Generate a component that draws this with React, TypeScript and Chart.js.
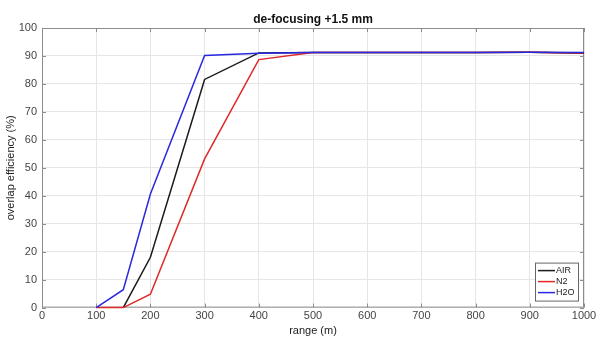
import React, { useEffect, useRef } from "react";
import { Chart, registerables } from "chart.js";

Chart.register(...registerables);

const ranges = [100, 150, 200, 300, 400, 500, 600, 700, 800, 900, 1000];
const airValues = [null, 0, 18, 81.6, 91.1, 91.2, 91.2, 91.2, 91.2, 91.3, 91.0];
const n2Values = [0, 0, 4.8, 53.2, 88.7, 91.2, 91.2, 91.2, 91.2, 91.3, 91.1];
const h2oValues = [0, 6.4, 40.6, 90.2, 91.0, 91.2, 91.2, 91.2, 91.2, 91.3, 91.2];
const xTicks = [0, 100, 200, 300, 400, 500, 600, 700, 800, 900, 1000];
const yTicks = [0, 10, 20, 30, 40, 50, 60, 70, 80, 90, 100];
const titleText = "de-focusing +1.5 mm";

const FONT = "'Liberation Sans', Arial, sans-serif";

const boxPlugin = {
  id: "matlabBox",
  beforeDatasetsDraw(chart: any) {
    const { ctx, chartArea: a, scales } = chart;
    ctx.save();
    ctx.strokeStyle = "#8c8c8c";
    ctx.lineWidth = 1;
    ctx.beginPath();
    const tl = 4;
    xTicks.forEach((v) => {
      const x = Math.round(scales.x.getPixelForValue(v)) + 0.5;
      ctx.moveTo(x, a.bottom);
      ctx.lineTo(x, a.bottom - tl);
      ctx.moveTo(x, a.top);
      ctx.lineTo(x, a.top + tl);
    });
    yTicks.forEach((v) => {
      const y = Math.round(scales.y.getPixelForValue(v)) + 0.5;
      ctx.moveTo(a.left, y);
      ctx.lineTo(a.left + tl, y);
      ctx.moveTo(a.right, y);
      ctx.lineTo(a.right - tl, y);
    });
    ctx.stroke();
    ctx.strokeRect(a.left + 0.5, a.top + 0.5, a.right - a.left - 1, a.bottom - a.top - 1);

    // title centred over the plot area
    ctx.fillStyle = "#111";
    ctx.font = `bold 12px ${FONT}`;
    ctx.textAlign = "center";
    ctx.textBaseline = "alphabetic";
    ctx.fillText(titleText, (a.left + a.right) / 2, a.top - 5);
    ctx.restore();
  },
  afterDatasetsDraw(chart: any) {
    const { ctx, chartArea: a } = chart;
    ctx.save();
    // legend box
    const ds = chart.data.datasets;
    const bw = 43, bh = 38;
    const bx = a.right - 6 - bw;
    const by = a.bottom - 7 - bh;
    ctx.fillStyle = "#ffffff";
    ctx.fillRect(bx, by, bw, bh);
    ctx.strokeStyle = "#666666";
    ctx.lineWidth = 1;
    ctx.strokeRect(bx + 0.5, by + 0.5, bw, bh);
    ctx.font = `9px ${FONT}`;
    ctx.textBaseline = "middle";
    ds.forEach((d: any, i: number) => {
      const yy = by + 8 + i * 11;
      ctx.strokeStyle = d.borderColor;
      ctx.lineWidth = 1.5;
      ctx.beginPath();
      ctx.moveTo(bx + 3, yy);
      ctx.lineTo(bx + 20, yy);
      ctx.stroke();
      ctx.fillStyle = "#222";
      ctx.fillText(d.label, bx + 21, yy);
    });
    ctx.restore();
  },
};

export default function App() {
  const ref = useRef<HTMLCanvasElement>(null);
  useEffect(() => {
    const mk = (vals: (number | null)[]) =>
      ranges.map((r, i) => ({ x: r, y: vals[i] }));
    const chart = new Chart(ref.current!, {
      type: "line",
      data: {
        datasets: [
          { label: "AIR", data: mk(airValues) as any, borderColor: "#1a1a1a", borderWidth: 1.5, pointRadius: 0, tension: 0, order: 2, clip: false },
          { label: "N2", data: mk(n2Values) as any, borderColor: "#e02828", borderWidth: 1.5, pointRadius: 0, tension: 0, order: 1, clip: false },
          { label: "H2O", data: mk(h2oValues) as any, borderColor: "#2828e0", borderWidth: 1.5, pointRadius: 0, tension: 0, order: 0, clip: false },
        ],
      },
      options: {
        animation: false,
        responsive: false,
        maintainAspectRatio: false,
        layout: { padding: { left: 4, right: 12, top: 28, bottom: 0 } },
        plugins: {
          legend: { display: false },
          tooltip: { enabled: false },
          title: { display: false },
        },
        scales: {
          x: {
            type: "linear",
            min: 0,
            max: 1000,
            afterBuildTicks: (s: any) => { s.ticks = xTicks.map((v) => ({ value: v })); },
            afterFit: (s: any) => { s.paddingRight = 0; s.paddingLeft = 0; },
            ticks: { color: "#444", font: { family: FONT, size: 11 }, padding: 2, maxRotation: 0, callback: (v: any) => String(v) },
            grid: { color: "#e6e6e6", drawTicks: false },
            border: { display: false },
            title: { display: true, text: "range (m)", color: "#222", font: { family: FONT, size: 11 }, padding: { top: 0, bottom: 0 } },
          },
          y: {
            min: 0,
            max: 100,
            afterBuildTicks: (s: any) => { s.ticks = yTicks.map((v) => ({ value: v })); },
            afterFit: (s: any) => { s.width = 38; s.paddingTop = 0; s.paddingBottom = 0; },
            ticks: { color: "#444", font: { family: FONT, size: 11 }, padding: 5, callback: (v: any) => String(v) },
            grid: { color: "#e6e6e6", drawTicks: false },
            border: { display: false },
            title: { display: true, text: "overlap efficiency (%)", color: "#222", font: { family: FONT, size: 11 }, padding: { top: 0, bottom: 2 } },
          },
        },
      },
      plugins: [boxPlugin],
    });
    return () => chart.destroy();
  }, []);
  return (
    <div style={{ position: "fixed", left: 0, top: 0, width: 596, height: 338, background: "#fff" }}>
      <canvas ref={ref} width={596} height={338} />
    </div>
  );
}
